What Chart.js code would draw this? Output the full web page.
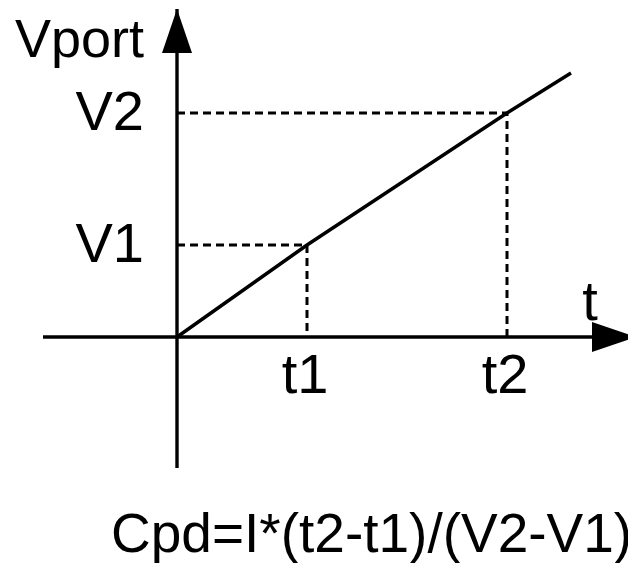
<!DOCTYPE html>
<html>
<head>
<meta charset="utf-8">
<script src="https://cdn.jsdelivr.net/npm/chart.js@4/dist/chart.umd.min.js"></script>
<style>
  html, body { margin: 0; padding: 0; background: #fff; }
  canvas { display: block; }
</style>
</head>
<body>
<canvas id="cpd-chart" width="628" height="563"></canvas>
<script>
// time marks on the horizontal axis
const tTicks = [1.3, 3.3];
const tLabels = ["t1", "t2"];

// voltage marks on the vertical axis
const vTicks = [0.92, 2.24];
const vLabels = ["V1", "V2"];

// charging ramp
const rampT = [0, 1.3, 3.3, 3.94];
const rampV = [0, 0.92, 2.24, 2.64];

// axis extents (start, arrow tip)
const tAxis = [-1.34, 4.59];
const vAxis = [-1.31, 3.28];

const formula = "Cpd=I*(t2-t1)/(V2-V1)";
const FONT = '"Liberation Sans", Arial, sans-serif';

let toPoints = (xs, ys) => xs.map((x, i) => ({ x: x, y: ys[i] }));

// arrow heads and text labels
const axisDecor = {
    id: "axisDecor",
    afterDatasetsDraw(chart) {
        const ctx = chart.ctx;
        const x = chart.scales.x;
        const y = chart.scales.y;
        const x0 = x.getPixelForValue(0);
        const y0 = y.getPixelForValue(0);

        ctx.save();
        ctx.fillStyle = "#000";

        // vertical arrow
        const vTip = y.getPixelForValue(vAxis[1]);
        ctx.beginPath();
        ctx.moveTo(x0, vTip);
        ctx.lineTo(x0 - 15, vTip + 44);
        ctx.lineTo(x0 + 15, vTip + 44);
        ctx.closePath();
        ctx.fill();

        // horizontal arrow
        const tTip = x.getPixelForValue(tAxis[1]);
        ctx.beginPath();
        ctx.moveTo(tTip, y0);
        ctx.lineTo(tTip - 44, y0 - 15);
        ctx.lineTo(tTip - 44, y0 + 15);
        ctx.closePath();
        ctx.fill();

        ctx.textBaseline = "alphabetic";

        ctx.font = "56px " + FONT;
        ctx.textAlign = "right";
        vLabels.forEach((label, i) => {
            ctx.fillText(label, x0 - 33, y.getPixelForValue(vTicks[i]) + 17);
        });

        ctx.textAlign = "center";
        tLabels.forEach((label, i) => {
            ctx.fillText(label, x.getPixelForValue(tTicks[i]) - 2, y0 + 56);
        });
        ctx.fillText("t", tTip - 46, y0 - 17);

        ctx.font = "54px " + FONT;
        ctx.textAlign = "right";
        ctx.fillText("Vport", x0 - 33, vTip + 48);

        ctx.font = "55px " + FONT;
        ctx.textAlign = "left";
        ctx.fillText(formula, 111, 552);

        ctx.restore();
    }
};

let guide = (t, v) => ({
    data: toPoints([0, t, t], [v, v, 0]),
    showLine: true,
    borderColor: "#000",
    borderWidth: 3,
    borderDash: [8, 5],
    pointRadius: 0
});

let solid = points => ({
    data: points,
    showLine: true,
    borderColor: "#000",
    borderWidth: 3.4,
    pointRadius: 0
});

const config = {
    type: "scatter",
    data: {
        datasets: [
            solid(toPoints(rampT, rampV)),
            solid(toPoints(tAxis, [0, 0])),
            solid(toPoints([0, 0], vAxis)),
            guide(tTicks[0], vTicks[0]),
            guide(tTicks[1], vTicks[1])
        ]
    },
    options: {
        responsive: false,
        animation: false,
        devicePixelRatio: 1,
        layout: { padding: 0 },
        plugins: {
            legend: { display: false },
            tooltip: { enabled: false },
            title: { display: false }
        },
        scales: {
            x: { type: "linear", min: -1.77, max: 4.51, display: false },
            y: { type: "linear", min: -2.26, max: 3.37, display: false }
        }
    },
    plugins: [axisDecor]
};

new Chart("cpd-chart", config);
</script>
</body>
</html>
